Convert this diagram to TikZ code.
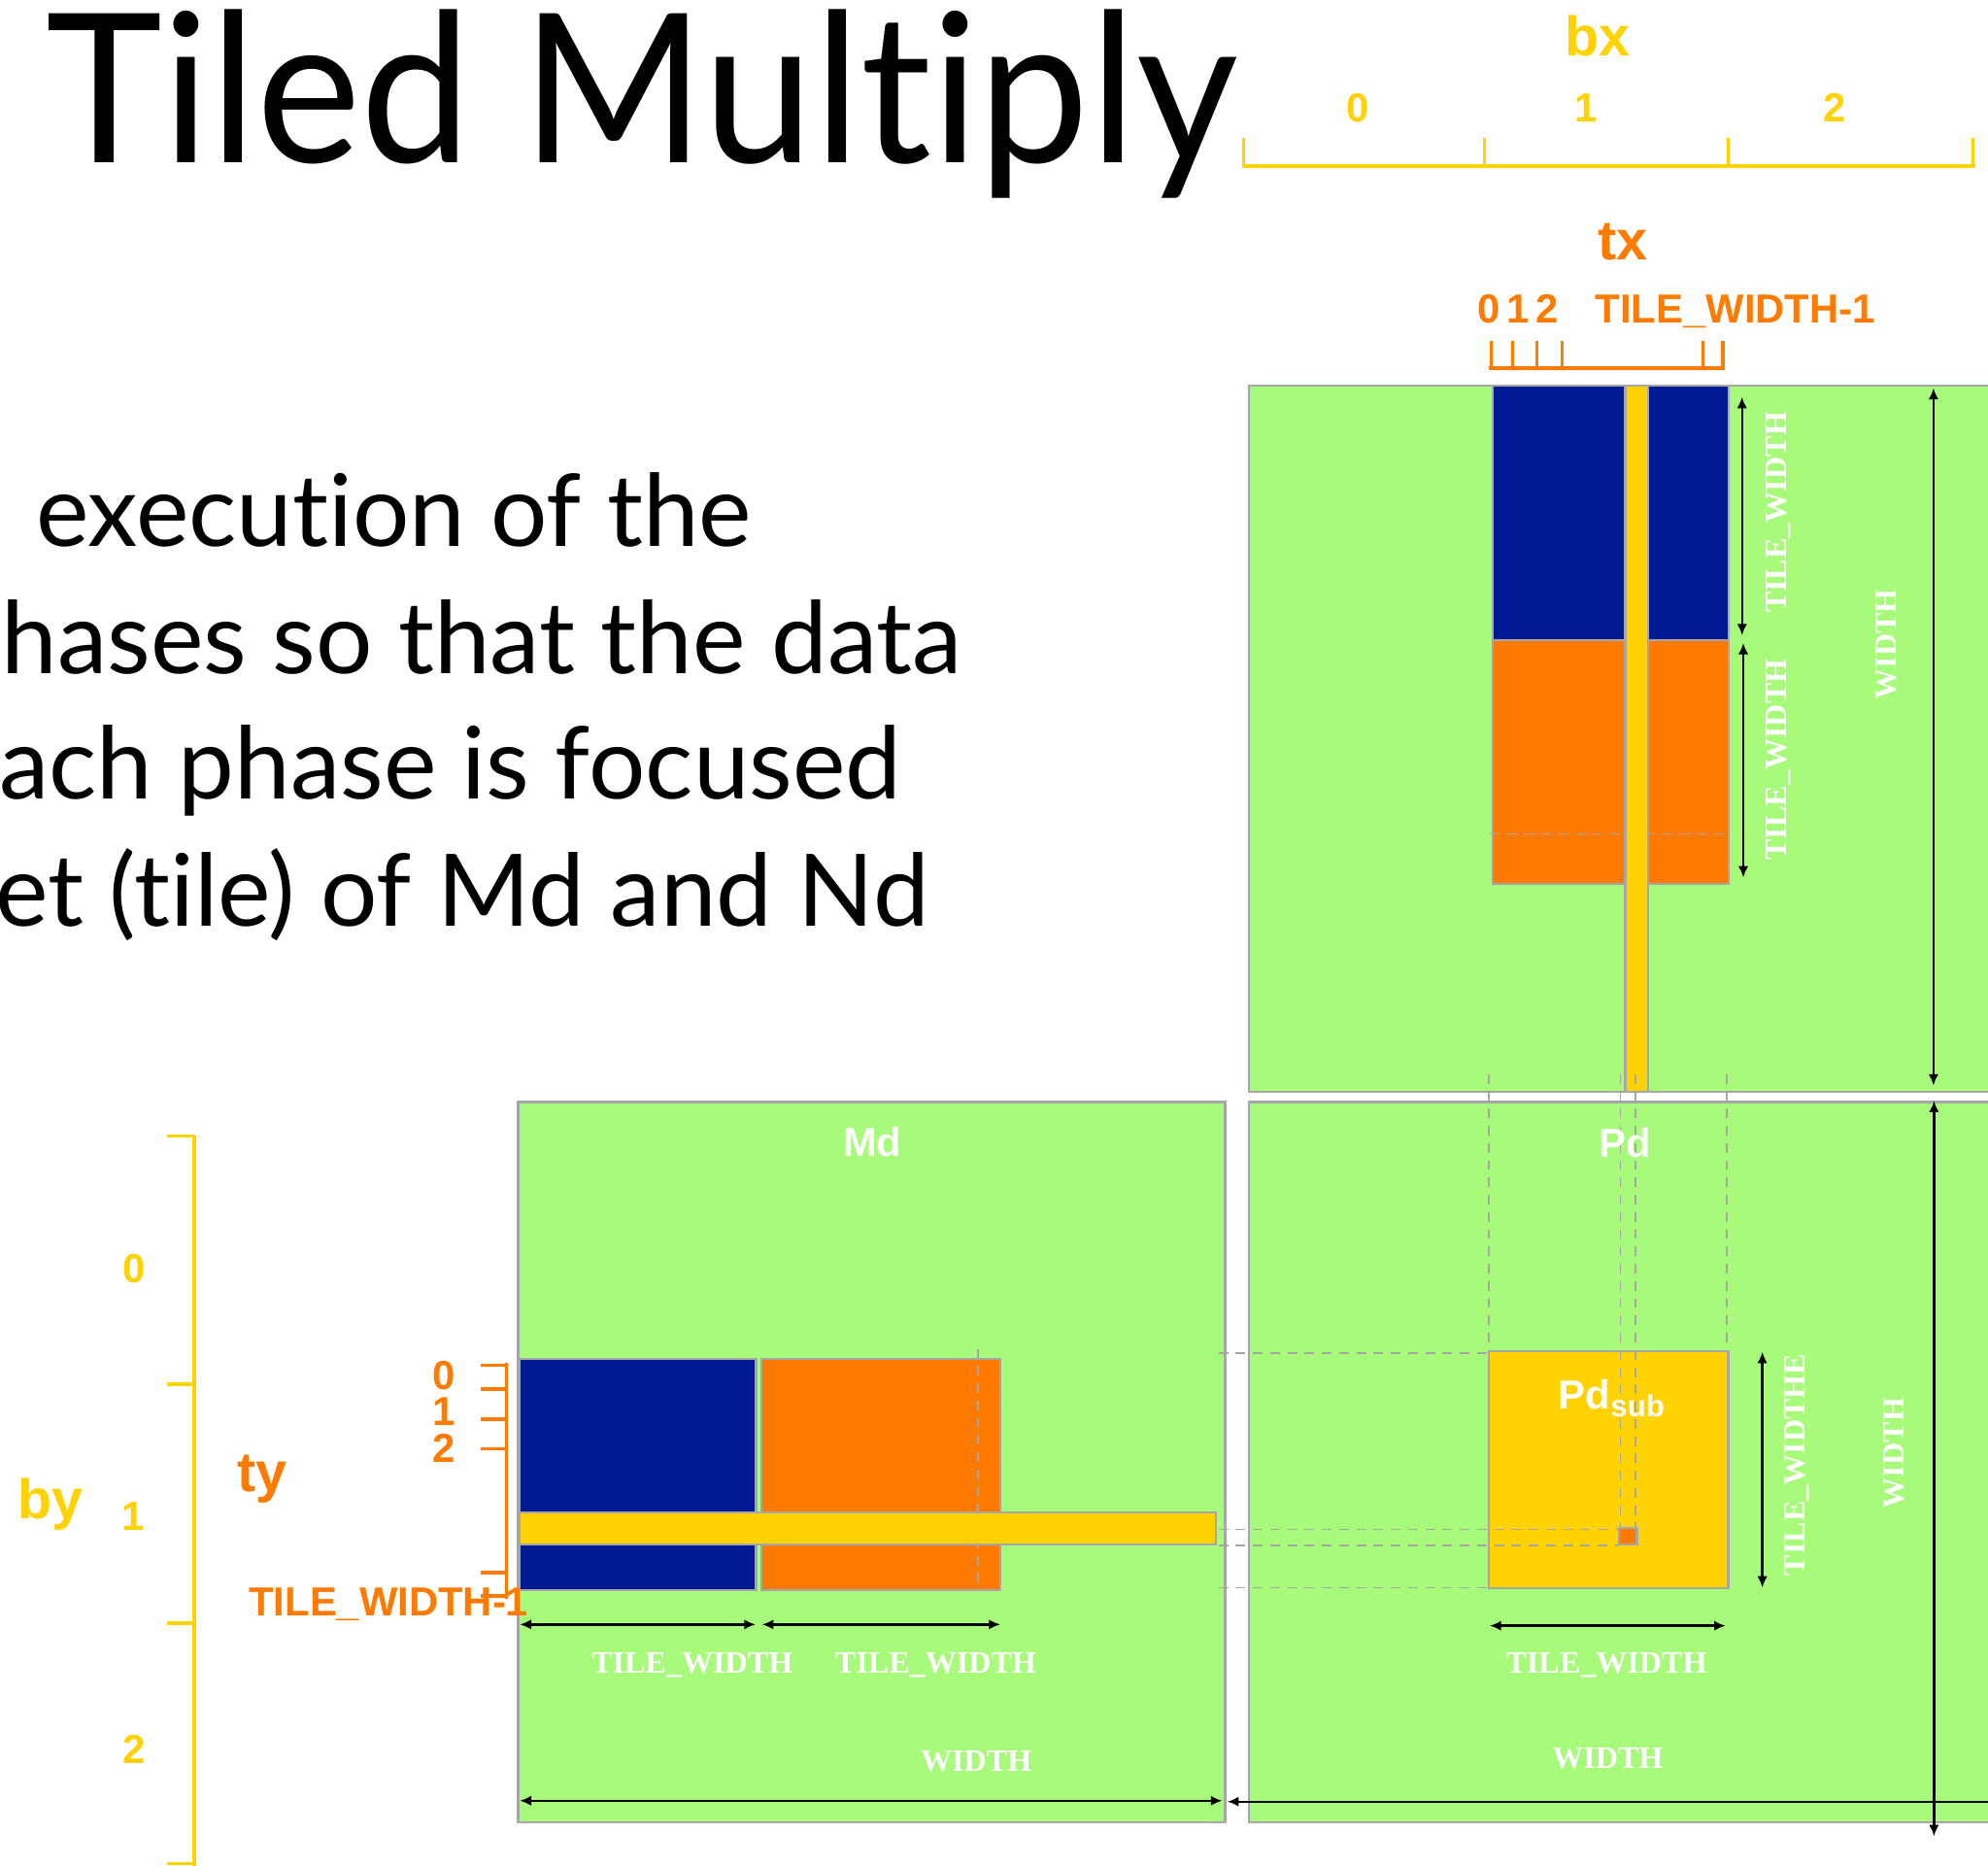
\documentclass[tikz,border=0pt]{standalone}
\usepackage{fontspec}
\usetikzlibrary{arrows.meta}
\newfontfamily\gillfont[Ligatures={NoCommon}]{Lato}
\newfontfamily\arialfont{Liberation Sans}
\newfontfamily\timesfont{Liberation Serif}
\definecolor{matgreen}{HTML}{A8FA7A}
\definecolor{tileblue}{HTML}{021A91}
\definecolor{tileorange}{HTML}{FF7B00}
\definecolor{tileyellow}{HTML}{FFD200}
\definecolor{edgegray}{HTML}{A6A6A6}
\tikzset{
  matrixbox/.style={fill=matgreen, draw=edgegray, line width=0.9pt},
  tilebox/.style={draw=edgegray, line width=0.9pt},
  guide/.style={draw=edgegray, line width=0.7pt, dash pattern=on 3.8pt off 3pt},
  dimarrow/.style={{Latex[length=4.5pt,width=4pt]}-{Latex[length=4.5pt,width=4pt]}, line width=0.9pt},
  dimlabel/.style={text=white, font=\timesfont\bfseries\fontsize{12.3}{12.3}\selectfont, inner sep=0pt},
  idxlabel/.style={font=\arialfont\bfseries\fontsize{16}{16}\selectfont, inner sep=0pt},
  axislabel/.style={font=\arialfont\bfseries\fontsize{22}{22}\selectfont, inner sep=0pt},
  blockruler/.style={draw=tileyellow, line width=1.5pt},
  threadruler/.style={draw=tileorange, line width=1.4pt},
  bodytext/.style={font=\gillfont\fontsize{39.5}{39.5}\selectfont, inner sep=0pt, anchor=base west},
}
\begin{document}
\begin{tikzpicture}[x=0.5pt,y=0.5pt,yscale=-1,xscale=1]
\useasboundingbox (0,0) rectangle (1568,1471);

% Title and text
\node (title) [anchor=base west, inner sep=0pt, font=\gillfont\fontsize{82}{82}\selectfont] at (36,128) {\scalebox{0.95}[1]{Tiled Multiply}};
\node (line1) [bodytext] at (28,431) {execution of the};
\node (line2) [bodytext] at (1,531) {hases so that the data};
\node (line3) [bodytext] at (-1,630) {ach phase is focused};
\node (line4) [bodytext] at (-4,730) {et (tile) of Md and Nd};

% bx ruler
\draw [blockruler] (980,131) -- (1558,131) ;
\foreach \tx in {981,1171,1363,1556} \draw [tileyellow, line width=1pt] (\tx,109) -- (\tx,131) ;
\node (bx) [axislabel, text=tileyellow] at (1260,28) {bx};
\node (bx0) [idxlabel, text=tileyellow] at (1071,85) {0};
\node (bx1) [idxlabel, text=tileyellow] at (1251,85) {1};
\node (bx2) [idxlabel, text=tileyellow] at (1447,85) {2};

% tx comb
\node (tx) [axislabel, text=tileorange] at (1280,191) {tx};
\node (tx012) [idxlabel, text=tileorange, anchor=base west] at (1165,254.5) {0\,1\,2};
\node (txlast) [idxlabel, text=tileorange, anchor=base west] at (1258,254.5) {TILE\_WIDTH-1};
\draw [threadruler] (1174,290.5) -- (1360.5,290.5) ;
\foreach \tx in {1176,1193,1212,1232,1343,1359} \draw [tileorange, line width=1.3pt] (\tx,268.6) -- (\tx,290.5) ;

% Nd
\draw [matrixbox] (985,304) rectangle (1600,861) ;
\draw [tilebox, fill=tileblue] (1177.5,304) rectangle (1363.5,505) ;
\draw [tilebox, fill=tileorange] (1177.5,505) rectangle (1363.5,697) ;
\draw [guide] (1175,657.6) -- (1362,657.6) ;
\draw [tilebox, fill=tileyellow] (1282,304) rectangle (1300,861) ;
\coordinate (ndtw1a) at (1374,313) ;
\coordinate (ndtw1b) at (1374,501) ;
\coordinate (ndtw2a) at (1375,507) ;
\coordinate (ndtw2b) at (1375,692) ;
\coordinate (ndwa) at (1525,306) ;
\coordinate (ndwb) at (1525,856) ;
\draw [dimarrow] (ndtw1a) -- (ndtw1b) ;
\draw [dimarrow] (ndtw2a) -- (ndtw2b) ;
\draw [dimarrow] (ndwa) -- (ndwb) ;
\node (ndtwlab1) [dimlabel, rotate=90] at (1403,404) {TILE\_WIDTH};
\node (ndtwlab2) [dimlabel, rotate=90] at (1403,599) {TILE\_WIDTH};
\node (ndwlab) [dimlabel, rotate=90] at (1488,508) {WIDTH};

% Md
\draw [matrixbox] (408.7,869) rectangle (966.4,1437) ;
\draw [tilebox, fill=tileblue] (409.4,1071.6) rectangle (596.2,1253.8) ;
\draw [tilebox, fill=tileorange] (600.7,1071.6) rectangle (789,1253.8) ;
\draw [guide] (771.4,1063.6) -- (771.4,1251) ;
\draw [tilebox, fill=tileyellow] (409.4,1192.4) rectangle (958.8,1218) ;
\node (md) [idxlabel, text=white] at (688,900.5) {Md};
\coordinate (mdtw1a) at (410,1281) ;
\coordinate (mdtw1b) at (596,1281) ;
\coordinate (mdtw2a) at (601,1281) ;
\coordinate (mdtw2b) at (789,1281) ;
\coordinate (mdwa) at (410,1420) ;
\coordinate (mdwb) at (964,1420) ;
\draw [dimarrow] (mdtw1a) -- (mdtw1b) ;
\draw [dimarrow] (mdtw2a) -- (mdtw2b) ;
\draw [dimarrow] (mdwa) -- (mdwb) ;
\node (mdtwlab1) [dimlabel] at (546,1313) {TILE\_WIDTH};
\node (mdtwlab2) [dimlabel] at (738,1313) {TILE\_WIDTH};
\node (mdwlab) [dimlabel] at (770,1389) {WIDTH};

% Pd
\draw [matrixbox] (985,869) rectangle (1600,1437) ;
\draw [tilebox, fill=tileyellow] (1174.5,1065.3) rectangle (1363,1252.6) ;
\draw [tilebox, fill=tileorange] (1277,1205) rectangle (1291,1218) ;
\draw [guide] (1174.5,847) -- (1174.5,1065) ;
\draw [guide] (1362,847) -- (1362,1065) ;
\draw [guide] (1278,847) -- (1278,1205) ;
\draw [guide] (1290,847) -- (1290,1205) ;
\draw [guide] (961,1067) -- (1174.5,1067) ;
\draw [guide] (961,1206) -- (1277,1206) ;
\draw [guide] (961,1218.4) -- (1277,1218.4) ;
\draw [guide] (961,1252) -- (1174.5,1252) ;
\node (pd) [idxlabel, text=white] at (1281.5,901.5) {Pd};
\node (pdsub) [idxlabel, text=white, anchor=base west] at (1229,1110.7) {Pd\raisebox{-3.2pt}{\fontsize{12}{12}\selectfont sub}};
\coordinate (pdtwa) at (1175,1282) ;
\coordinate (pdtwb) at (1361,1282) ;
\coordinate (pdtha) at (1390,1066) ;
\coordinate (pdthb) at (1390,1252) ;
\coordinate (pdwa) at (1525.4,868) ;
\coordinate (pdwb) at (1525.4,1448) ;
\coordinate (pdhwa) at (968,1420.7) ;
\coordinate (pdhwb) at (1620,1420.7) ;
\draw [dimarrow] (pdtwa) -- (pdtwb) ;
\draw [dimarrow] (pdtha) -- (pdthb) ;
\draw [dimarrow] (pdwa) -- (pdwb) ;
\draw [dimarrow] (pdhwa) -- (pdhwb) ;
\node (pdtwlab) [dimlabel] at (1267,1313) {TILE\_WIDTH};
\node (pdthlab) [dimlabel, rotate=90] at (1417,1155) {TILE\_WIDTHE};
\node (pdvwlab) [dimlabel, rotate=90] at (1494,1146) {WIDTH};
\node (pdwlab) [dimlabel] at (1268,1387) {WIDTH};

% by ruler
\draw [blockruler] (153,895.8) -- (153,1480) ;
\foreach \ty in {895.8,1091.5,1280,1469.6} \draw [tileyellow, line width=1.3pt] (132,\ty) -- (153,\ty) ;
\node (by) [axislabel, text=tileyellow, anchor=base west] at (14,1198) {by};
\node (by0) [idxlabel, text=tileyellow] at (106,1000.5) {0};
\node (by1) [idxlabel, text=tileyellow] at (105,1196) {1};
\node (by2) [idxlabel, text=tileyellow] at (106,1379.6) {2};

% ty comb
\node (ty) [axislabel, text=tileorange, anchor=base west] at (187,1176.5) {ty};
\draw [threadruler] (399.4,1074.8) -- (399.4,1260.5) ;
\foreach \ty in {1076.7,1095.5,1119,1142.4,1240,1258.5} \draw [tileorange, line width=1.3pt] (379,\ty) -- (399.4,\ty) ;
\node (ty0) [idxlabel, text=tileorange] at (350,1084.5) {0};
\node (ty1) [idxlabel, text=tileorange] at (350,1113) {1};
\node (ty2) [idxlabel, text=tileorange] at (350,1142) {2};
\node (tylast) [idxlabel, text=tileorange, anchor=base west] at (196,1274) {TILE\_WIDTH-1};

\end{tikzpicture}
\end{document}
